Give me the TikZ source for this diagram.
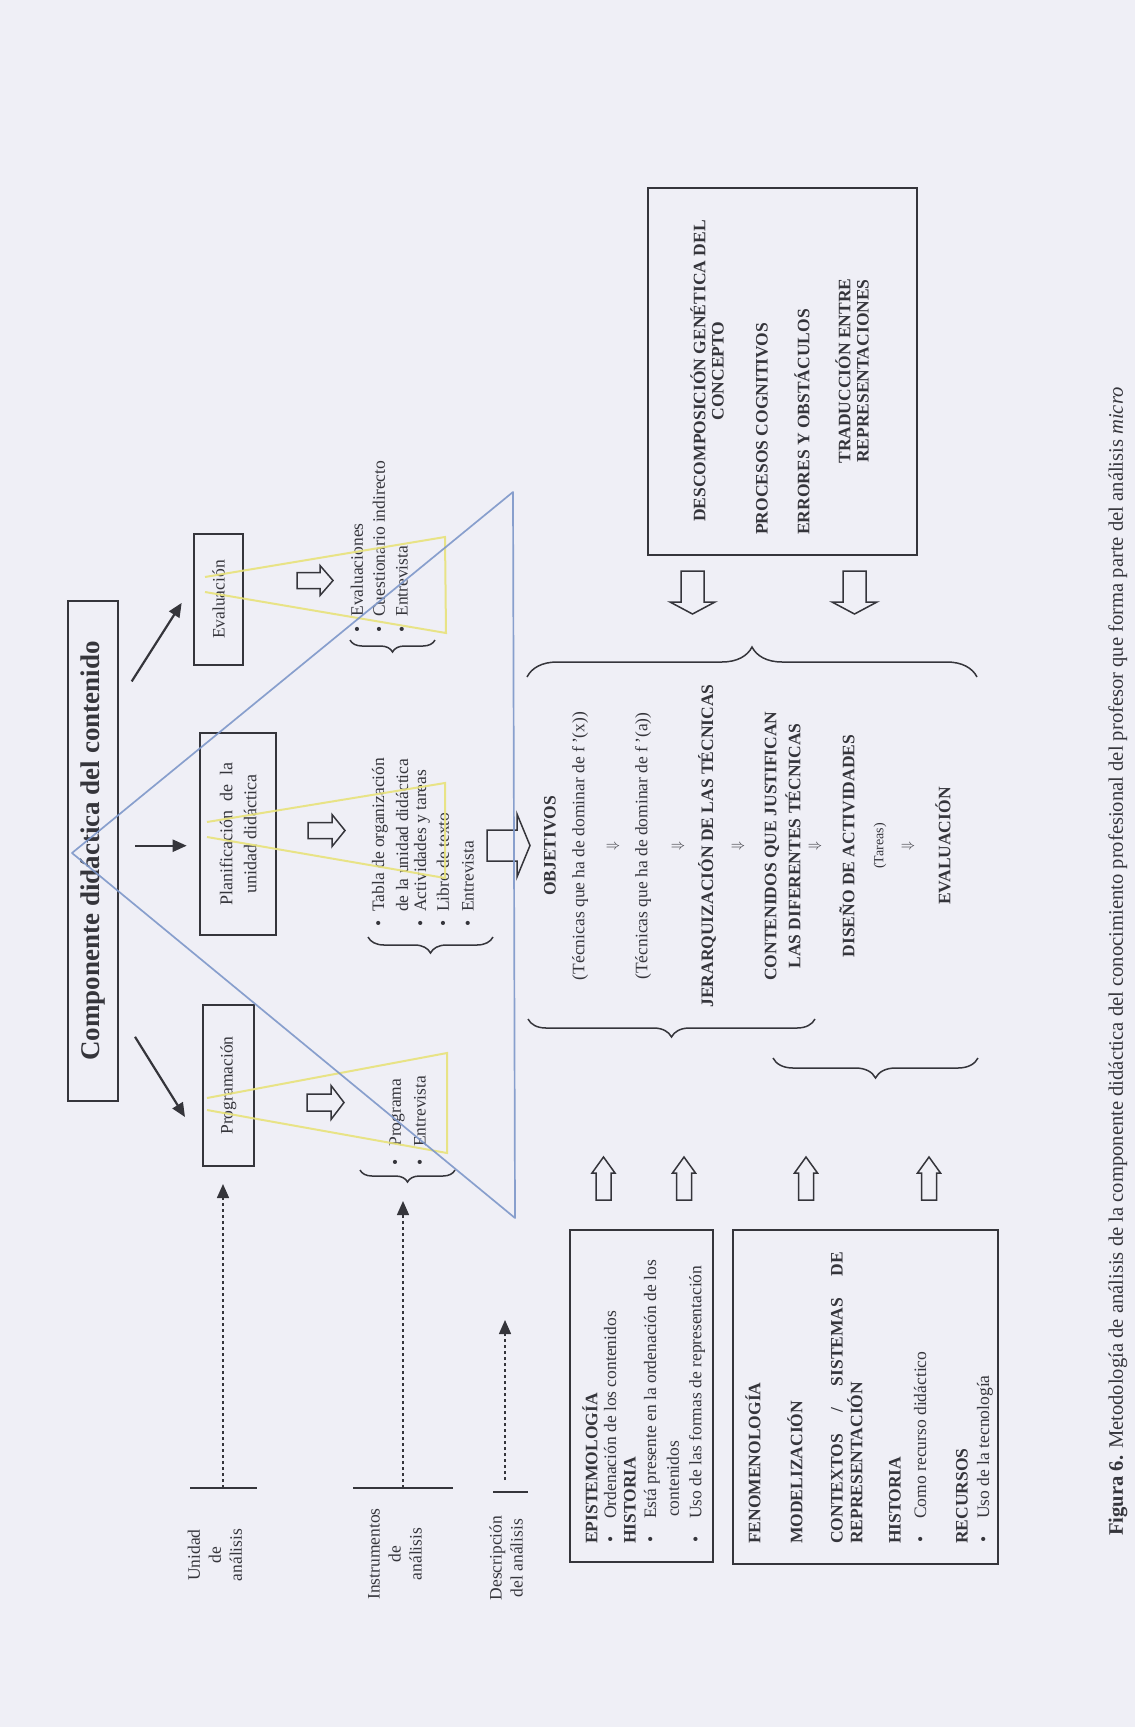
\documentclass[tikz,border=0pt]{standalone}
\usepackage{fontspec}
\setmainfont{Liberation Serif}
\usetikzlibrary{arrows.meta,decorations.pathreplacing}

\definecolor{paper}{HTML}{EFEFF6}
\definecolor{ink}{HTML}{35353B}
\definecolor{triblue}{HTML}{7D97C9}
\definecolor{funnel}{HTML}{E8E27A}

\newcommand\ftitle{\fontsize{27}{31}\selectfont\bfseries}
\newcommand\fbody{\fontsize{17.5}{21}\selectfont}
\newcommand\fhead{\fontsize{17.5}{21}\selectfont\bfseries}
\newcommand\fsmall{\fontsize{14}{16}\selectfont}
\newcommand\fcap{\fontsize{20.6}{24}\selectfont}

\tikzset{
  pics/blockarrow/.style n args={4}{code={
    \draw[ink, line width=1.5pt, line join=miter, fill=paper]
      (0,#2) -- ({#1-#4},#2) -- ({#1-#4},#3) -- (#1,0) -- ({#1-#4},-#3)
      -- ({#1-#4},-#2) -- (0,-#2) -- cycle;
  }},
}

\begin{document}
\begin{tikzpicture}[x=1pt, y=-1pt,
  every node/.style={inner sep=0pt, text=ink},
  vt/.style={rotate=90},
  lt/.style={rotate=90, anchor=west},
  frame/.style={draw=ink, line width=1.8pt},
  flow/.style={draw=ink, line width=2.2pt, -{Triangle[length=14pt,width=12pt]}},
  guide/.style={draw=ink, line width=1.5pt, dash pattern=on 3.5pt off 2.5pt, -{Triangle[length=14pt,width=12pt]}},
  tick/.style={draw=ink, line width=1.6pt},
  funnelline/.style={draw=funnel, line width=2pt, opacity=0.9},
  triline/.style={draw=triblue, line width=1.7pt, line join=round, opacity=0.9},
  bracedeco/.style={draw=ink, line width=1.5pt, decorate, decoration={brace, amplitude=#1}},
]
\useasboundingbox (0,0) rectangle (1135,1727);
\fill[paper] (0,0) rectangle (1135,1727);

% ---------- top level ----------
\node[frame, vt, minimum width=500pt, minimum height=50pt, font=\ftitle] (title) at (93,851) {Componente didáctica del contenido};

\node[frame, vt, minimum width=131pt, minimum height=49pt, font=\fbody] (evalbox) at (218.5,599.5) {Evaluación};
\node[frame, vt, minimum width=202pt, minimum height=76pt, font=\fontsize{18}{24}\selectfont, align=center] (planbox) at (238,834) {Planificación\ \ de\ \ la\\unidad didáctica};
\node[frame, vt, minimum width=161pt, minimum height=51pt, font=\fbody] (progbox) at (228.5,1085.5) {Programación};

\coordinate (tE0) at (131.7,681.4);  \coordinate (tE1) at (181.7,602.9);
\coordinate (tP0) at (135,845.7);    \coordinate (tP1) at (186.7,845.7);
\coordinate (tG0) at (135,1036.8);   \coordinate (tG1) at (185,1117);
\draw[flow] (tE0) -- (tE1);
\draw[flow] (tP0) -- (tP1);
\draw[flow] (tG0) -- (tG1);

% ---------- block arrows towards the instruments ----------
\pic at (297,580.5) {blockarrow={36}{8}{15}{13}};
\pic at (308,830.5) {blockarrow={37}{8}{16}{13}};
\pic at (307,1102.5) {blockarrow={37}{8.5}{17}{13}};
\pic at (487,845.5) {blockarrow={43}{15.5}{31.5}{13}};

% ---------- instrument lists ----------
\begin{scope}[every node/.append style={lt, font=\fbody}]
\node (evl1) at (357,633) {\textbullet\hspace{10pt}Evaluaciones};
\node (evl2) at (379,633) {\textbullet\hspace{10pt}Cuestionario indirecto};
\node (evl3) at (402,633) {\textbullet\hspace{10pt}Entrevista};

\node (pll1) at (380,927) {\textbullet\hspace{9pt}Tabla de organización};
\node (pll1b) at (402,912) {de la unidad didáctica};
\node (pll2) at (422,927) {\textbullet\hspace{9pt}Actividades y tareas};
\node (pll3) at (443,927) {\textbullet\hspace{9pt}Libro de texto};
\node (pll4) at (468,927) {\textbullet\hspace{9pt}Entrevista};

\node (prl1) at (397,1166) {\textbullet\hspace{13pt}Programa};
\node (prl2) at (420,1166) {\textbullet\hspace{13pt}Entrevista};
\end{scope}

\draw[bracedeco=12] (435,640) -- (350,640);
\draw[bracedeco=16] (493,937) -- (368,937);
\draw[bracedeco=12] (455,1170) -- (360,1170);

% ---------- analysis levels (left) ----------
\node[vt, font=\fbody, align=center] (unidad) at (215,1555) {Unidad\\de\\análisis};
\coordinate (uL) at (190,1488); \coordinate (uR) at (257,1488);
\coordinate (uM) at (223,1488); \coordinate (uTip) at (223,1184);
\draw[tick] (uL) -- (uR);
\draw[guide] (uM) -- (uTip);

\node[vt, font=\fbody, align=center] (instr) at (395,1554) {Instrumentos\\de\\análisis};
\coordinate (iL) at (353,1488); \coordinate (iR) at (453,1488);
\coordinate (iM) at (403,1488); \coordinate (iTip) at (403,1201);
\draw[tick] (iL) -- (iR);
\draw[guide] (iM) -- (iTip);

\node[vt, font=\fbody, align=center] (descr) at (506,1558) {Descripción\\del análisis};
\coordinate (dL) at (493,1492); \coordinate (dR) at (528,1492);
\coordinate (dM) at (505,1480); \coordinate (dTip) at (505,1320);
\draw[tick] (dL) -- (dR);
\draw[guide] (dM) -- (dTip);

% ---------- sequence of the didactic unit ----------
\begin{scope}[every node/.append style={vt}]
\node[font=\fhead] (obj) at (550,846) {OBJETIVOS};
\node[font=\fbody] (tec1) at (580,846) {(Técnicas que ha de dominar de f\,'(x))};
\node[font=\fsmall] (s1) at (613,846) {$\Downarrow$};
\node[font=\fbody] (tec2) at (643,846) {(Técnicas que ha de dominar de f\,'(a))};
\node[font=\fsmall] (s2) at (678,846) {$\Downarrow$};
\node[font=\fhead] (jer) at (707,846) {JERARQUIZACIÓN DE LAS TÉCNICAS};
\node[font=\fsmall] (s3) at (738,846) {$\Downarrow$};
\node[font=\fhead] (cont1) at (772,846) {CONTENIDOS QUE JUSTIFICAN};
\node[font=\fhead] (cont2) at (793,846) {LAS DIFERENTES TÉCNICAS};
\node[font=\fsmall] (s4) at (815,846) {$\Downarrow$};
\node[font=\fhead] (dis) at (847,846) {DISEÑO DE ACTIVIDADES};
\node[font=\fsmall] (tar) at (880,846) {(Tareas)};
\node[font=\fsmall] (s5) at (908,846) {$\Downarrow$};
\node[font=\fhead] (evf) at (943,846) {EVALUACIÓN};
\end{scope}

\draw[bracedeco=30] (527,677) -- (977,677);
\draw[bracedeco=18] (815,1019) -- (528,1019);
\draw[bracedeco=20] (978,1058) -- (773,1058);

% ---------- cognitive analysis box ----------
\node[frame, minimum width=269pt, minimum height=367pt] (descbox) at (782.5,371.5) {};
\node[vt, font=\fhead] (dc1) at (698,371) {DESCOMPOSICIÓN GENÉTICA DEL};
\node[vt, font=\fhead] (dc2) at (718,371) {CONCEPTO};
\node[lt, font=\fhead] (dc3) at (762,535) {PROCESOS COGNITIVOS};
\node[lt, font=\fhead] (dc4) at (802,535) {ERRORES Y OBSTÁCULOS};
\node[vt, font=\fhead] (dc5) at (843,371) {TRADUCCIÓN ENTRE};
\node[vt, font=\fhead] (dc6) at (863,371) {REPRESENTACIONES};

\pic[rotate=-90] at (692.5,571) {blockarrow={43}{11.5}{22.5}{12}};
\pic[rotate=-90] at (854.5,571) {blockarrow={43}{11.5}{22.5}{12}};

% ---------- content analysis boxes ----------
\pic[rotate=90] at (603.5,1200) {blockarrow={43}{7.5}{11.5}{16}};
\pic[rotate=90] at (684,1200) {blockarrow={43}{7.5}{11.5}{16}};
\pic[rotate=90] at (806,1200) {blockarrow={43}{7.5}{11.5}{16}};
\pic[rotate=90] at (929,1200) {blockarrow={43}{7.5}{11.5}{16}};

\node[frame, minimum width=143pt, minimum height=332pt] (epibox) at (641.5,1396) {};
\begin{scope}[every node/.append style={lt, font=\fbody}]
\node[font=\fhead] (ep1) at (590,1544) {EPISTEMOLOGÍA};
\node (ep2) at (610,1543) {\textbullet\hspace{18pt}Ordenación de los contenidos};
\node[font=\fhead] (ep3) at (630,1544) {HISTORIA};
\node (ep4) at (652,1543) {\textbullet\hspace{18pt}Está presente en la ordenación de los};
\node (ep5) at (673,1517) {contenidos};
\node (ep6) at (697,1543) {\textbullet\hspace{18pt}Uso de las formas de representación};
\end{scope}

\node[frame, minimum width=265pt, minimum height=334pt] (fenbox) at (865.5,1397) {};
\begin{scope}[every node/.append style={lt, font=\fhead}]
\node (fe1) at (753,1544) {FENOMENOLOGÍA};
\node (fe2) at (795,1544) {MODELIZACIÓN};
\node (fe3) at (837,1544) {\makebox[292pt][s]{CONTEXTOS / SISTEMAS DE}};
\node (fe4) at (855,1544) {REPRESENTACIÓN};
\node (fe5) at (895,1544) {HISTORIA};
\node[font=\fbody] (fe6) at (920,1543) {\textbullet\hspace{18pt}Como recurso didáctico};
\node (fe7) at (962,1544) {RECURSOS};
\node[font=\fbody] (fe8) at (985,1543) {\textbullet\hspace{18pt}Uso de la tecnología};
\end{scope}

% ---------- caption ----------
\node[lt, font=\fcap] (caption) at (1118,1536) {\textbf{Figura 6.} Metodología de análisis de la componente didáctica del conocimiento profesional del profesor que forma parte del análisis \textit{micro}};

% ---------- highlight overlays ----------
\draw[funnelline] (205,577) -- (445,537) -- (446,633) -- (205,592);
\draw[funnelline] (207,822) -- (445,783) -- (445,878) -- (207,837);
\draw[funnelline] (207,1098) -- (447,1053) -- (447,1153) -- (207,1110);

\coordinate (bA) at (72,853);
\coordinate (bB) at (513,492);
\coordinate (bC) at (515,1218);
\draw[triline] (bA) -- (bB) -- (bC) -- cycle;
\end{tikzpicture}
\end{document}
